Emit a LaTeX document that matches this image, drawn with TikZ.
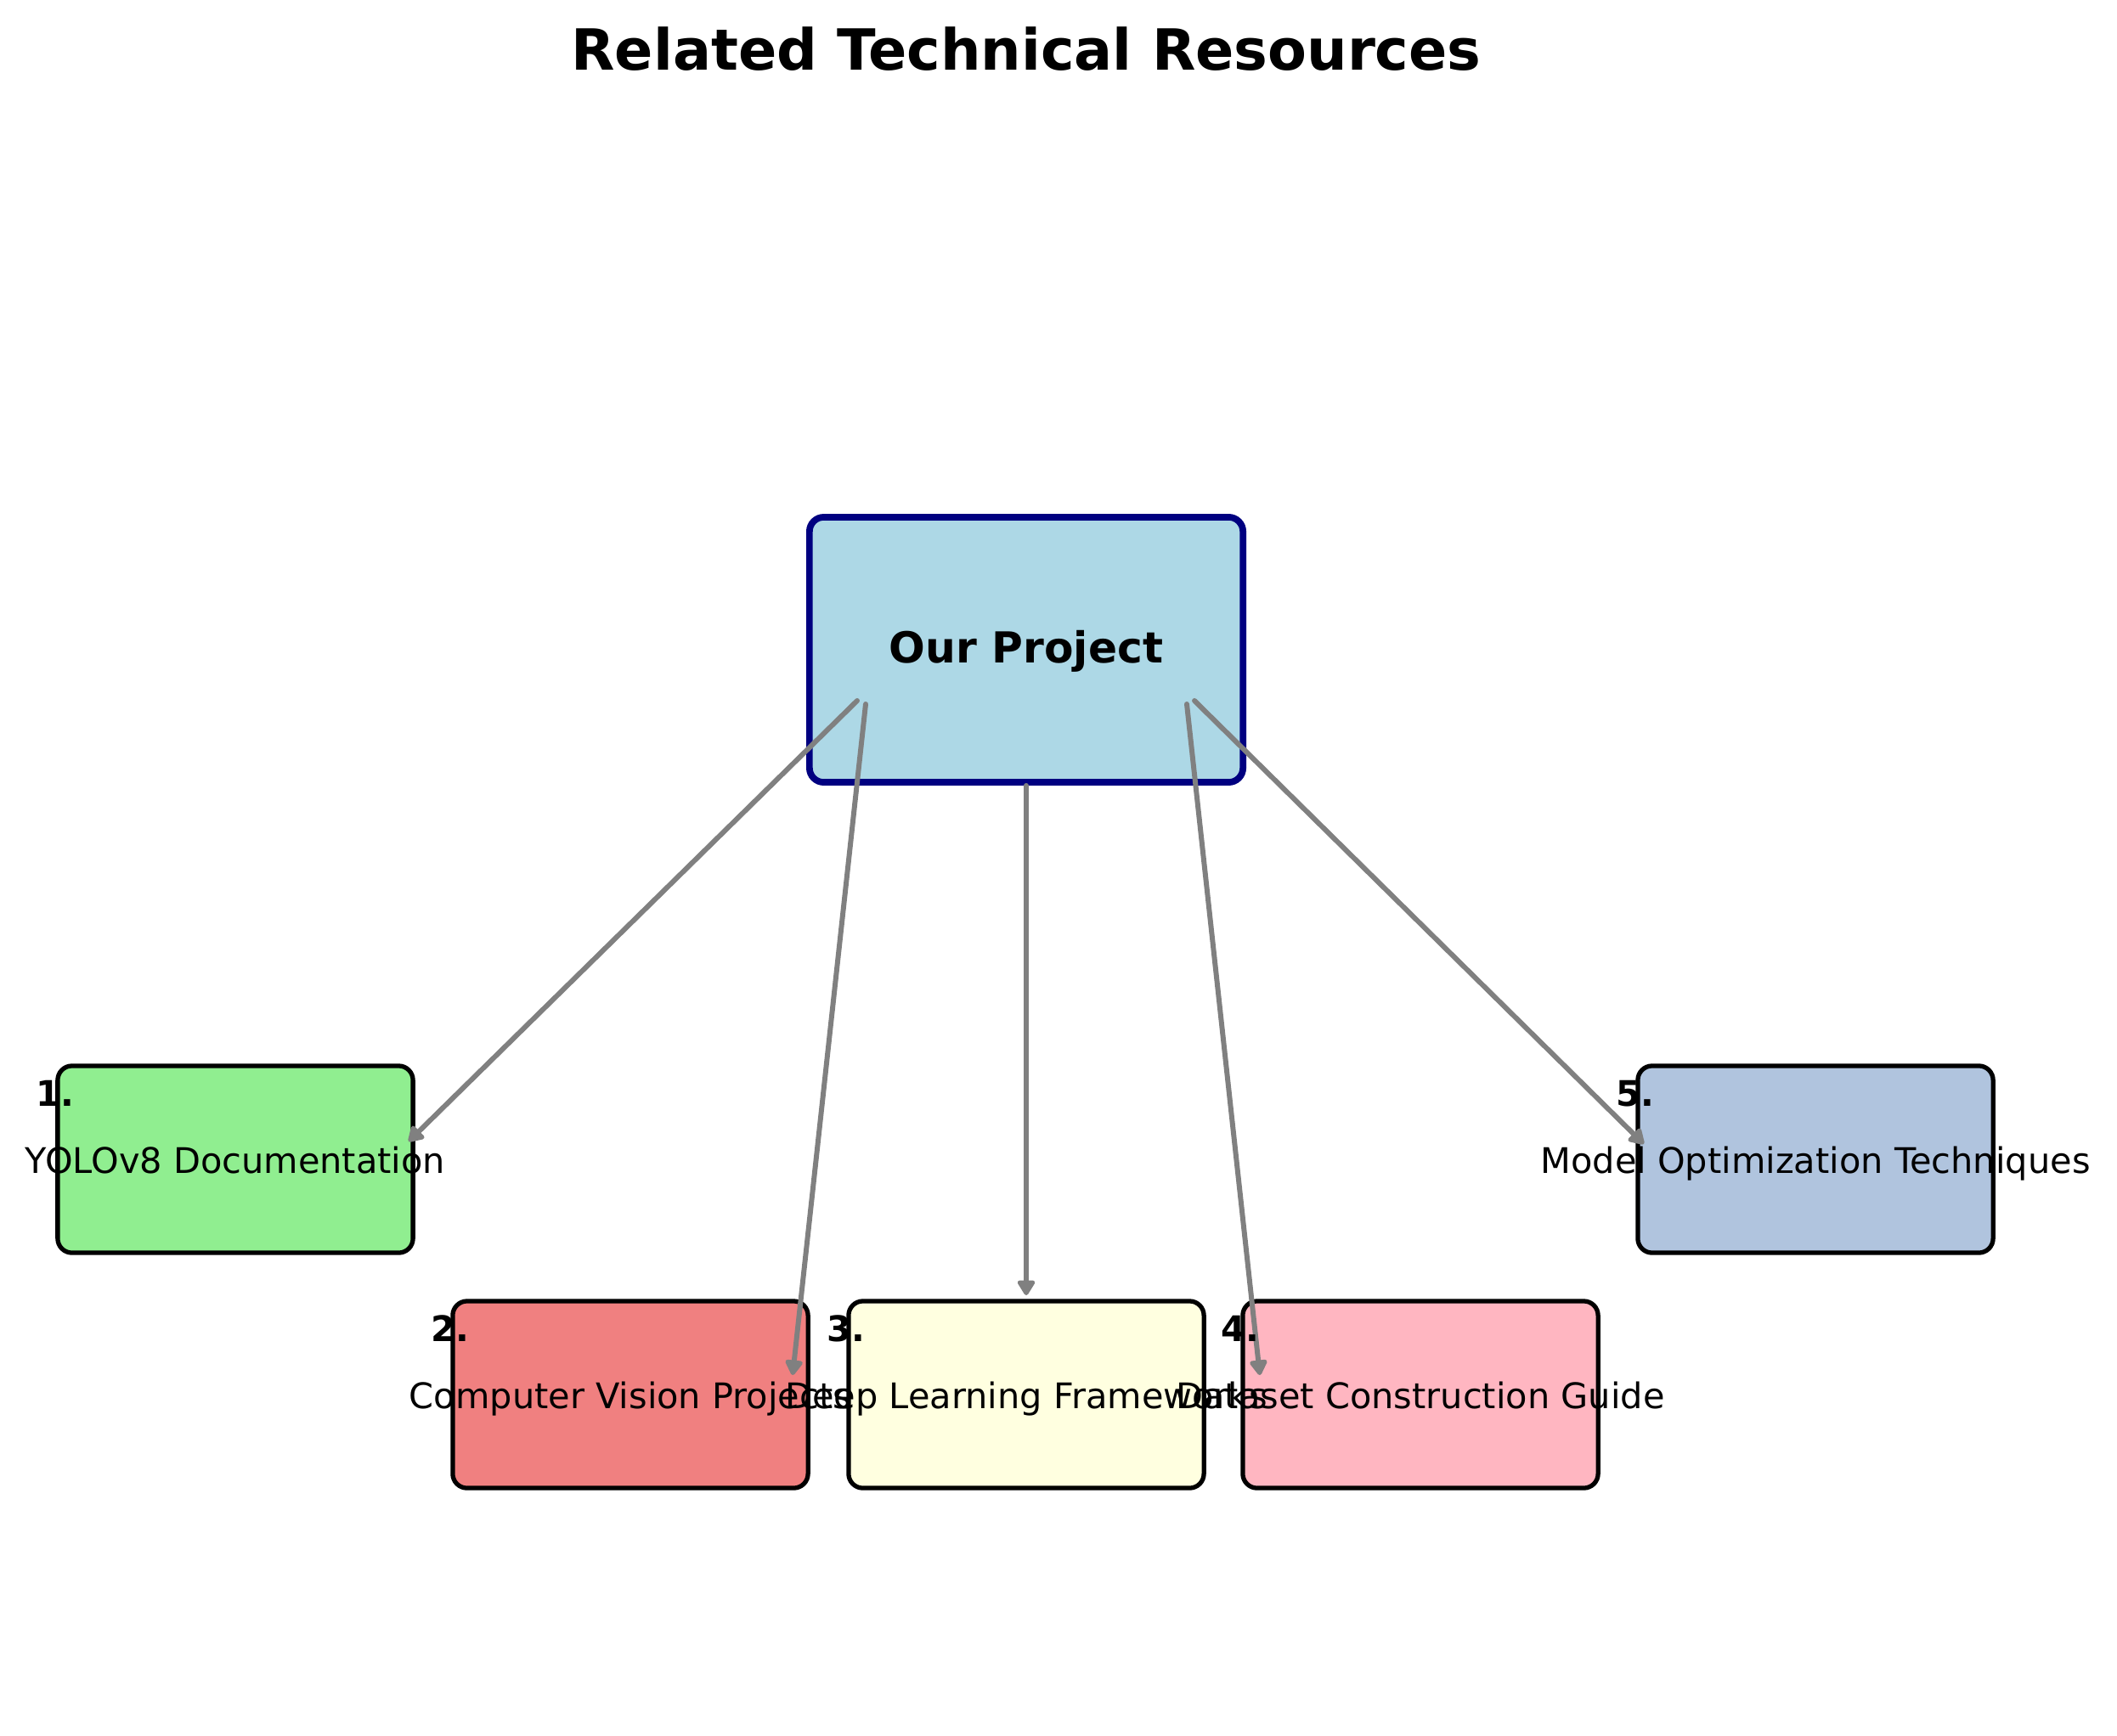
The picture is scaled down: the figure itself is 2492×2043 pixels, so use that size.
\documentclass[tikz,border=0pt]{standalone}
\usepackage{fontspec}
\setmainfont{DejaVu Sans}
\usepackage{xcolor}
\usepackage{tikz}
\usetikzlibrary{arrows.meta,positioning}

\definecolor{projblue}{HTML}{ADD8E6}
\definecolor{projnavy}{HTML}{000080}
\definecolor{resgreen}{HTML}{90EE90}
\definecolor{rescoral}{HTML}{F08080}
\definecolor{resyellow}{HTML}{FFFFE0}
\definecolor{respink}{HTML}{FFB6C1}
\definecolor{ressteel}{HTML}{B0C4DE}

\begin{document}
\begin{tikzpicture}[x=0.01cm,y=-0.01cm,
  resbox/.style={draw=black,line width=1.5pt,rounded corners=4.8pt,
    minimum width=4.18cm,minimum height=2.2cm,inner sep=0pt},
  restext/.style={anchor=base,inner sep=0pt,font=\fontsize{11.8}{14}\selectfont},
  resnum/.style={anchor=base,inner sep=0pt,font=\fontsize{11.8}{14}\selectfont\bfseries},
  link/.style={draw=gray,line width=1.7pt,line cap=round,
    -{Triangle[length=5.7pt,width=6.5pt,round]}}]
  \useasboundingbox (0,0) rectangle (2492,2043);
  % --- Titulo ---
  \node[anchor=base,font=\fontsize{19}{22}\selectfont\bfseries] (title) at (1208,83) {Related Technical Resources};
  % --- Proyecto ---
  \node[draw=projnavy,fill=projblue,line width=2.2pt,rounded corners=4.8pt,
    minimum width=5.1cm,minimum height=3.12cm] (proj) at (1208,765) {};
  % --- Recursos ---
  \node[resbox,fill=resgreen] (r1) at (277,1365) {};
  \node[resbox,fill=rescoral] (r2) at (742,1642) {};
  \node[resbox,fill=resyellow] (r3) at (1208,1642) {};
  \node[resbox,fill=respink] (r4) at (1672,1642) {};
  \node[resbox,fill=ressteel] (r5) at (2137,1365) {};
  % --- Flechas ---
  \coordinate (s1) at (1009,825);
  \coordinate (s2) at (1019,829);
  \coordinate (s4) at (1397,829);
  \coordinate (s5) at (1406,825);
  \coordinate (e1) at (481,1344);
  \coordinate (e2) at (933,1619);
  \coordinate (e3) at (1208,1525);
  \coordinate (e4) at (1483,1619);
  \coordinate (e5) at (1935,1347);
  \draw[link] (s1) -- (e1);
  \draw[link] (s2) -- (e2);
  \draw[link] (proj.south) -- (e3);
  \draw[link] (s4) -- (e4);
  \draw[link] (s5) -- (e5);
  % --- Textos ---
  \node[anchor=base,font=\fontsize{14.3}{17}\selectfont\bfseries] (projtext) at ([yshift=-0.15cm]proj.center) {Our Project};
  \node[resnum] (n1) at ([yshift=-0.5cm]r1.north west) {1.};
  \node[restext] (t1) at ([yshift=-0.16cm]r1.center) {YOLOv8 Documentation};
  \node[resnum] (n2) at ([yshift=-0.5cm]r2.north west) {2.};
  \node[restext] (t2) at ([yshift=-0.16cm]r2.center) {Computer Vision Projects};
  \node[resnum] (n3) at ([yshift=-0.5cm]r3.north west) {3.};
  \node[restext] (t3) at ([yshift=-0.16cm]r3.center) {Deep Learning Frameworks};
  \node[resnum] (n4) at ([yshift=-0.5cm]r4.north west) {4.};
  \node[restext] (t4) at ([yshift=-0.16cm]r4.center) {Dataset Construction Guide};
  \node[resnum] (n5) at ([yshift=-0.5cm]r5.north west) {5.};
  \node[restext] (t5) at ([yshift=-0.16cm]r5.center) {Model Optimization Techniques};
\end{tikzpicture}
\end{document}
